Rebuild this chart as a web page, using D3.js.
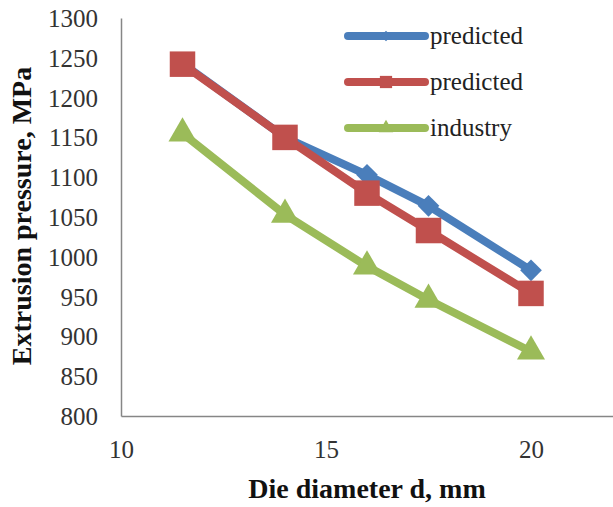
<!DOCTYPE html>
<html>
  <head>
    <meta charset="utf-8">
    <title>Extrusion pressure</title>
    <style>
      body { margin: 0; background: #fff; }
      .chart { width: 613px; height: 507px; }
      .axis path { stroke: #868686; stroke-width: 1.5; fill: none; }
    </style>
  </head>
  <body>
    <div class="chart"></div>
    <script src="https://d3js.org/d3.v7.min.js"></script>
    <script>
      // data
      const diameters = [11.5, 14, 16, 17.5, 20];
      const predictedA = [1243, 1150, 1103, 1064, 983];
      const predictedB = [1242, 1150, 1080, 1033, 954];
      const industry = [1155, 1053, 988, 946, 881];
      const seriesNames = ["predicted", "predicted", "industry"];
      const xTicks = [10, 15, 20];
      const yTicks = [800, 850, 900, 950, 1000, 1050, 1100, 1150, 1200, 1250, 1300];

      const serif = "'Liberation Serif', 'Times New Roman', serif";
      const width = 613, height = 507;
      const plotLeft = 121, plotBottom = 416, plotTop = 18;

      const x = d3.scaleLinear().domain([10, 25]).range([plotLeft, plotLeft + 41 * 15]);
      const y = d3.scaleLinear().domain([800, 1300]).range([plotBottom, plotTop]);

      const svg = d3.select(".chart").append("svg")
        .attr("width", width)
        .attr("height", height)
        .attr("font-family", serif);

      // axes
      svg.append("g")
        .attr("class", "axis")
        .attr("transform", `translate(${plotLeft},0)`)
        .call(d3.axisLeft(y).tickValues(yTicks).tickFormat(d3.format("d")).tickSize(0).tickPadding(23))
        .attr("font-family", serif)
        .attr("font-size", 25)
        .call(g => g.selectAll("text").attr("dy", "0.34em").attr("fill", "#333"));

      svg.append("g")
        .attr("class", "axis")
        .attr("transform", `translate(0,${plotBottom})`)
        .call(d3.axisBottom(x).tickValues(xTicks).tickFormat(d3.format("d")).tickSize(0).tickPadding(24))
        .attr("font-family", serif)
        .attr("font-size", 25)
        .call(g => g.selectAll("text").attr("fill", "#333"));

      svg.append("text")
        .attr("text-anchor", "middle")
        .attr("x", 367)
        .attr("y", 498)
        .attr("font-size", 28)
        .attr("font-weight", "bold")
        .attr("fill", "#111")
        .text("Die diameter d, mm");

      svg.append("text")
        .attr("text-anchor", "middle")
        .attr("transform", "translate(31,216) rotate(-90)")
        .attr("font-size", 28)
        .attr("font-weight", "bold")
        .attr("fill", "#111")
        .text("Extrusion pressure, MPa");

      const series = [
        { name: seriesNames[0], values: predictedA, color: "#4A7EBB", symbol: d3.symbolDiamond2, size: 300, lsize: 70 },
        { name: seriesNames[1], values: predictedB, color: "#C0504D", symbol: d3.symbolSquare, size: 650, lsize: 150 },
        { name: seriesNames[2], values: industry, color: "#9BBB59", symbol: d3.symbolTriangle, size: 340, lsize: 90 }
      ];

      const line = d3.line()
        .x((d, i) => x(diameters[i]))
        .y(d => y(d));

      series.forEach(s => {
        const g = svg.append("g");
        g.append("path")
          .attr("d", line(s.values))
          .attr("fill", "none")
          .attr("stroke", s.color)
          .attr("stroke-width", 8)
          .attr("stroke-linejoin", "round");
        g.selectAll("path.pt")
          .data(s.values)
          .enter().append("path")
          .attr("class", "pt")
          .attr("d", d3.symbol().type(s.symbol).size(s.size))
          .attr("transform", (d, i) => `translate(${x(diameters[i])},${y(d)})`)
          .attr("fill", s.color);
      });

      // legend
      const legend = svg.append("g");
      series.forEach((s, i) => {
        const ly = 36 + i * 46;
        legend.append("line")
          .attr("x1", 348).attr("x2", 425)
          .attr("y1", ly).attr("y2", ly)
          .attr("stroke", s.color)
          .attr("stroke-width", 8)
          .attr("stroke-linecap", "round");
        legend.append("path")
          .attr("d", d3.symbol().type(s.symbol).size(s.lsize))
          .attr("transform", `translate(386,${ly})`)
          .attr("fill", s.color);
        legend.append("text")
          .attr("x", 430)
          .attr("y", ly)
          .attr("dy", "0.3em")
          .attr("font-size", 25)
          .attr("fill", "#222")
          .text(s.name);
      });
    </script>
  </body>
</html>
